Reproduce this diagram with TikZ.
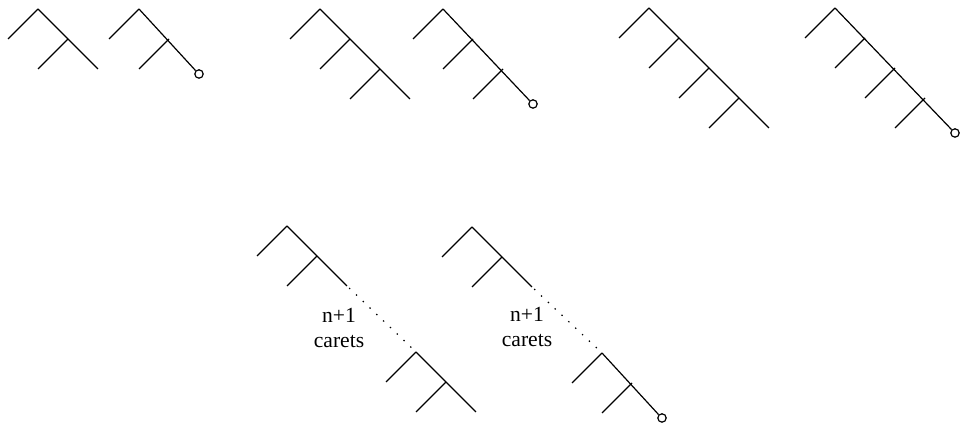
\documentclass[tikz,border=0pt]{standalone}
\usepackage{fontspec}
\setmainfont{Liberation Serif}
\usepackage{tikz}
\usetikzlibrary{calc}

\begin{document}
\begin{tikzpicture}[x=0.5pt, y=-0.5pt, line width=0.6pt,
      o/.style={draw, circle, inner sep=0pt, minimum size=4.2pt},
      gap/.style={dash pattern=on 0.7pt off 4pt, shorten <=1.5pt, shorten >=1.5pt},
      lbl/.style={align=center, font=\fontsize{10.8}{12.5}\selectfont}]
    \useasboundingbox (0,0) rectangle (966,426);
    \coordinate (a1) at (38,9);
    \coordinate (a2) at (139,9);
    \coordinate (a3) at (320,9);
    \coordinate (a4) at (443,9);
    \coordinate (a5) at (649,8);
    \coordinate (a6) at (835,8);
    \coordinate (b1) at (287,226);
    \coordinate (b2) at (416,352);
    \coordinate (c1) at (472,227);
    \coordinate (c2) at (602,353);
    \foreach \t/\n in {a1/2,a2/2,a3/3,a4/3,a5/4,a6/4,b1/2,b2/2,c1/2,c2/2}
      \foreach \i in {1,...,\n}
        \draw ($(\t)+({30*\i-30},{30*\i-30})$) -- ++(-30,30);
    \foreach \t/\n in {a1/2,a3/3,a5/4,b1/2,b2/2,c1/2}
      \draw (\t) -- ++({30*\n},{30*\n});
    \foreach \t/\n in {a2/2,a4/3,a6/4,c2/2} {
      \node[o] (o\t) at ($(\t)+({30*\n},{30*\n+5})$) {};
      \draw (\t) -- (o\t.north west);
    }
    \coordinate (e1) at ($(b1)+(60,60)$);
    \coordinate (e2) at ($(c1)+(60,60)$);
    \draw[gap] (e1) -- (b2);
    \draw[gap] (e2) -- (c2);
    \node[lbl] (k1) at (339,328) {n+1\\carets};
    \node[lbl] (k2) at (527,327) {n+1\\carets};
\end{tikzpicture}
\end{document}
